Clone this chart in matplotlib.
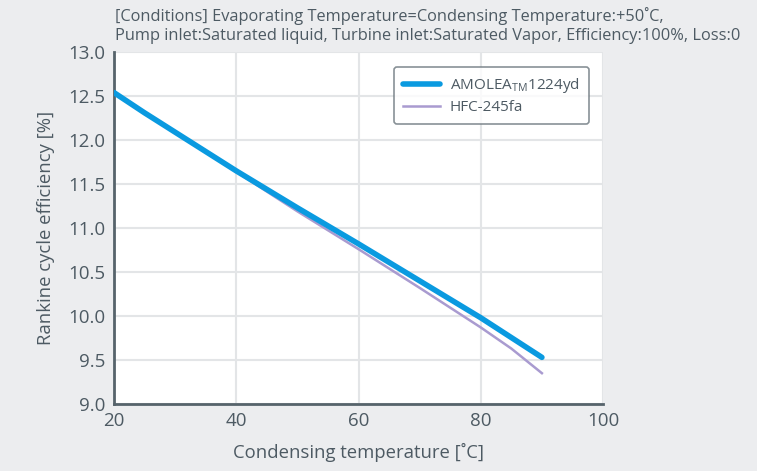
import matplotlib.pyplot as plt
import numpy as np

temp = [20, 25, 30, 35, 40, 50, 60, 70, 80, 85, 90]
amolea = [12.54, 12.31, 12.09, 11.87, 11.65, 11.23, 10.82, 10.40, 9.98, 9.755, 9.53]
hfc = [12.54, 12.31, 12.09, 11.87, 11.64, 11.19, 10.76, 10.32, 9.87, 9.63, 9.35]

plt.rcParams['font.family'] = ['Open Sans', 'DejaVu Sans']
txt = '#4d5a63'

fig = plt.figure(figsize=(7.57, 4.71), dpi=100, facecolor='#ecedef')
ax = fig.add_axes([0.1506, 0.1423, 0.646, 0.747])
ax.set_facecolor('white')

ax.plot(temp, amolea, color='#0a9ae0', lw=4, solid_capstyle='round',
        label=r'AMOLEA$_{\mathregular{TM}}$1224yd', zorder=3)
ax.plot(temp, hfc, color='#a99bd0', lw=1.8, label='HFC-245fa', zorder=2)

ax.set_xlim(20, 100)
ax.set_ylim(9, 13)
ax.set_xticks(np.arange(20, 101, 20))
ax.set_yticks(np.arange(9, 13.01, 0.5))
ax.set_yticklabels([f'{v:.1f}' for v in np.arange(9, 13.01, 0.5)])
ax.grid(True, color='#e3e5e7', lw=1.5)
ax.set_axisbelow(True)
ax.tick_params(length=0, labelsize=13.5, colors=txt, pad=6)
for s in ['top', 'right']:
    ax.spines[s].set_visible(False)
for s in ['left', 'bottom']:
    ax.spines[s].set_color('#56636b')
    ax.spines[s].set_linewidth(2)

ax.set_xlabel('Condensing temperature [˚C]', fontsize=13.3, color=txt, labelpad=9)
ax.set_ylabel('Rankine cycle efficiency [%]', fontsize=13.3, color=txt, labelpad=10)

leg = ax.legend(loc='upper right', bbox_to_anchor=(0.971, 0.957), borderaxespad=0,
                fontsize=11, frameon=True, fancybox=True, edgecolor='#6b767d',
                handlelength=2.4, handletextpad=0.65, labelspacing=0.3, borderpad=0.6)
leg.get_frame().set_linewidth(1.2)
for t in leg.get_texts():
    t.set_color(txt)

fig.text(0.152, 0.985, '[Conditions] Evaporating Temperature=Condensing Temperature:+50˚C,\n'
         'Pump inlet:Saturated liquid, Turbine inlet:Saturated Vapor, Efficiency:100%, Loss:0',
         fontsize=11.8, color=txt, va='top', ha='left', linespacing=1.25)

fig.savefig('out.png', dpi=100, facecolor=fig.get_facecolor())
